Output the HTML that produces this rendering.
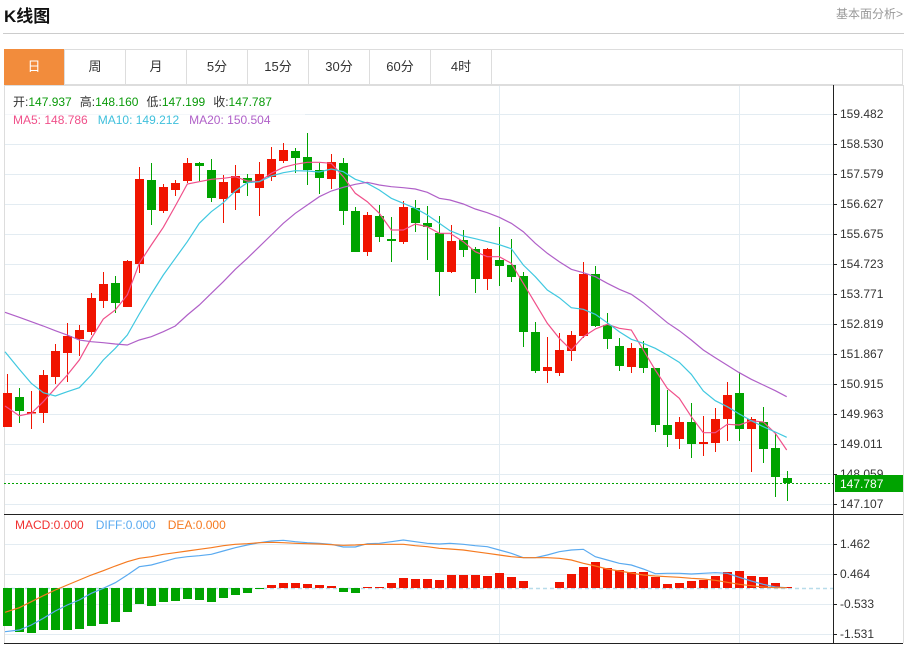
<!DOCTYPE html>
<html><head><meta charset="utf-8"><style>
body{margin:0;width:910px;height:646px;background:#fff;overflow:hidden;font-family:"Liberation Sans","Noto Sans CJK SC",sans-serif;}
#wrap{position:relative;width:910px;height:646px;}
.t{position:absolute;white-space:nowrap;}
</style></head><body><div id="wrap">
<div class="t" style="left:4px;top:2px;font-size:17px;font-weight:bold;color:#111;">K线图</div>
<div class="t" style="left:836px;top:5px;font-size:12px;color:#999;">基本面分析&gt;</div>
<div style="position:absolute;left:3px;top:33px;width:901px;height:1px;background:#ccc"></div>
<div style="position:absolute;left:4px;top:49px;width:899px;height:36px;border:1px solid #ddd;box-sizing:border-box"></div>
<div id="tabs"></div>
<svg id="s" width="910" height="646" style="position:absolute;left:0;top:0" xmlns="http://www.w3.org/2000/svg"></svg>
</div>
<script>
var tabs=["日","周","月","5分","15分","30分","60分","4时"];
var th="";
for(var i=0;i<8;i++){var x=4+i*61;
th+='<div class="t" style="left:'+x+'px;top:49px;width:61px;height:36px;line-height:36px;text-align:center;font-size:13px;'+(i==0?'background:#f28c3c;color:#fff;':'color:#333;')+'border-right:1px solid #ddd;box-sizing:border-box">'+tabs[i]+'</div>';}
document.getElementById('tabs').innerHTML=th;
var S='';
function L(x1,y1,x2,y2,c,w,d){S+='<line x1="'+x1+'" y1="'+y1+'" x2="'+x2+'" y2="'+y2+'" stroke="'+c+'" stroke-width="'+(w||1)+'"'+(d?' stroke-dasharray="'+d+'"':'')+'/>';}
function T(x,y,t,c,s){S+='<text x="'+x+'" y="'+y+'" fill="'+c+'" font-size="'+(s||12)+'" font-family="Liberation Sans,Noto Sans CJK SC,sans-serif">'+t+'</text>';}
// grids
for(var y=114;y<=504;y+=30)L(4,y+.5,833,y+.5,'#e3ecf2');
[544,574,604,634].forEach(function(y){L(4,y+.5,833,y+.5,'#e3ecf2');});
L(499.5,85,499.5,643,'#e3ecf2');L(739.5,85,739.5,643,'#e3ecf2');
L(4.5,85,4.5,643,'#ddd');L(903.5,85,903.5,643,'#ddd');
L(4,85.5,903,85.5,'#ddd');
L(833.5,85,833.5,643,'#222');
L(4,514.5,903,514.5,'#222');L(4,643.5,903,643.5,'#222');
var labs=["159.482","158.530","157.579","156.627","155.675","154.723","153.771","152.819","151.867","150.915","149.963","149.011","148.059","147.107"];
for(var i=0;i<labs.length;i++){var y=114+i*30;L(833,y+.5,837,y+.5,'#222');T(840,y+4,labs[i],'#333',12);}
[["1.462",544],["0.464",574],["-0.533",604],["-1.531",634]].forEach(function(a){L(833,a[1]+.5,837,a[1]+.5,'#222');T(840,a[1]+4,a[0],'#333',12);});
// candles [top,bottom,high,low,red?]
var C=[[393,427,374,427,1],[397,411,388,423,0],[412,413,391,429,1],[375,413,370,423,1],[351,377,344,384,1],[336,353,323,382,1],[330,339,325,356,1],[298,332,293,335,1],[284,301,272,308,1],[283,303,276,313,0],[261,307,260,307,1],[179,264,167,273,1],[180,210,163,225,0],[187,211,184,213,1],[183,190,180,196,1],[163,181,158,183,1],[163,166,162,181,0],[170,198,159,202,0],[182,199,175,223,1],[176,193,165,210,1],[178,183,174,196,0],[174,188,162,216,1],[159,177,147,181,1],[150,161,143,163,1],[151,158,148,173,0],[157,170,133,185,0],[170,178,163,194,0],[162,179,154,189,1],[163,211,158,225,0],[211,252,207,252,0],[215,252,212,256,1],[216,237,205,242,0],[239,241,217,262,0],[207,242,201,244,1],[208,223,200,232,0],[223,227,206,260,0],[233,272,216,296,0],[241,272,225,273,1],[240,250,230,257,0],[249,279,247,293,0],[249,279,248,290,1],[260,266,227,286,0],[265,277,239,282,0],[276,332,272,347,0],[332,371,322,373,0],[367,371,337,383,1],[350,373,333,376,1],[335,351,331,361,1],[274,336,262,338,1],[274,326,266,327,0],[325,339,313,349,0],[346,366,338,371,0],[348,367,343,373,1],[348,368,341,373,0],[368,425,368,432,0],[425,435,390,447,0],[422,439,417,449,1],[422,444,403,458,0],[442,444,416,456,1],[419,443,408,452,1],[395,419,382,441,1],[393,429,372,441,0],[419,429,417,472,1],[422,449,407,463,0],[448,477,433,497,0],[478,483,471,501,0]];
var RED='#f01400',GRN='#00a300';
C.forEach(function(c,i){var x=7.5+12*i;var col=c[4]?RED:GRN;L(x,c[2],x,c[3],col);S+='<rect x="'+(x-4.5)+'" y="'+c[0]+'" width="9" height="'+Math.max(1.5,c[1]-c[0])+'" fill="'+col+'"/>';});
function P(a,b,c){var p=[];a.forEach(function(q){p.push((q[0]/3).toFixed(1)+','+(130+q[1]/3).toFixed(1));});b.forEach(function(q){p.push((450+q[0]/3).toFixed(1)+','+(130+q[1]/3).toFixed(1));});S+='<polyline points="'+p.join(' ')+'" fill="none" stroke="'+c+'" stroke-width="1.2"/>';}
P([[15,828],[58,857],[94,850],[130,815],[166,775],[202,735],[238,690],[274,625],[310,567],[346,540],[382,495],[418,400],[454,345],[490,292],[526,228],[562,162],[598,155],[634,148],[670,145],[706,140],[742,153],[778,155],[814,130],[850,112],[886,103],[922,97],[958,97],[994,100],[1030,140],[1066,190],[1102,215],[1138,250],[1174,300],[1210,300],[1246,282],[1282,290],[1318,310],[1350,310]],
[[40,335],[76,365],[112,380],[148,380],[184,400],[220,460],[256,520],[292,580],[328,625],[364,660],[400,620],[436,597],[472,583],[508,595],[544,600],[580,660],[616,720],[652,775],[688,805],[724,860],[760,908],[796,908],[832,883],[868,885],[904,872],[940,876],[976,910],[1010,960]],'#f0508a');
P([[15,665],[58,718],[94,760],[130,788],[166,798],[202,785],[238,773],[274,735],[310,690],[346,655],[382,615],[418,552],[454,492],[490,435],[526,385],[562,335],[598,280],[634,245],[670,218],[706,183],[742,158],[778,155],[814,138],[850,128],[886,122],[922,123],[958,126],[994,117],[1030,125],[1066,148],[1102,160],[1138,180],[1174,205],[1210,220],[1246,235],[1282,255],[1318,280],[1350,302]],
[[40,318],[76,326],[112,335],[148,344],[184,356],[220,405],[256,440],[292,480],[328,503],[364,533],[400,538],[436,553],[472,578],[508,605],[544,628],[580,640],[616,655],[652,675],[688,697],[724,733],[760,783],[796,812],[832,830],[868,852],[904,872],[940,890],[976,906],[1010,922]],'#40c8e0');
P([[15,547],[58,562],[94,575],[130,588],[166,602],[202,615],[238,630],[274,635],[310,638],[346,642],[382,645],[418,630],[454,620],[490,605],[526,588],[562,555],[598,525],[634,490],[670,455],[706,418],[742,385],[778,350],[814,315],[850,280],[886,250],[922,225],[958,200],[994,183],[1030,172],[1066,163],[1102,157],[1138,165],[1174,170],[1210,173],[1246,177],[1282,187],[1318,205],[1350,210]],
[[40,222],[76,237],[112,248],[148,262],[184,280],[220,305],[256,340],[292,370],[328,395],[364,418],[400,428],[436,440],[472,460],[508,478],[544,493],[580,518],[616,548],[652,578],[688,602],[724,630],[760,660],[796,683],[832,706],[868,728],[904,748],[940,765],[976,782],[1010,800]],'#b060c8');
// current price
L(4,483.5,833,483.5,'#00a300',1,'2,2');
S+='<rect x="835" y="475" width="68" height="17" fill="#00a300"/>';T(840,488,'147.787','#fff',12);
// MACD
L(4,588.5,833,588.5,'#b8dcea',1.5,'4,3');
var H=[626,632,633,630,630,630,629,626,624,622,612,604,606,602,601,599,600,602,598,595,593,589,585,583,583,584,585,586,592,593,587,587,583,578,579,579,580,575,575,575,576,573,577,581,588,588,582,574,567,562,568,570,572,572,577,584,583,581,580,576,572,571,576,577,583,587];
H.forEach(function(v,i){var x=7.5+12*i;var col=v>588?GRN:RED;var y0=Math.min(v,588),h=Math.abs(v-588);if(h<1)return;S+='<rect x="'+(x-4.5)+'" y="'+y0+'" width="9" height="'+h+'" fill="'+col+'"/>';});
function M(a,b,c){var p=[];a.forEach(function(q){p.push((q[0]/3).toFixed(1)+','+(505+q[1]/3).toFixed(1));});b.forEach(function(q){p.push((450+q[0]/3).toFixed(1)+','+(505+q[1]/3).toFixed(1));});S+='<polyline points="'+p.join(' ')+'" fill="none" stroke="'+c+'" stroke-width="1.2"/>';}
M([[15,380],[58,375],[94,360],[130,340],[166,318],[202,300],[238,285],[274,265],[310,250],[346,233],[382,210],[418,185],[454,180],[490,170],[526,160],[562,155],[598,152],[634,148],[670,138],[706,128],[742,120],[778,113],[814,108],[850,106],[886,110],[922,113],[958,115],[994,118],[1030,126],[1066,126],[1102,116],[1138,115],[1174,110],[1210,105],[1246,110],[1282,115],[1318,117],[1350,115]],
[[40,118],[76,122],[112,125],[148,135],[184,145],[220,158],[256,158],[292,150],[328,140],[364,135],[400,133],[436,155],[472,165],[508,175],[544,180],[580,192],[616,206],[652,205],[688,205],[724,207],[760,205],[796,203],[832,205],[868,217],[904,228],[940,238],[976,246],[1010,248]],'#5aaaf0');
M([[15,322],[58,308],[94,290],[130,272],[166,255],[202,240],[238,225],[274,210],[310,197],[346,183],[382,170],[418,160],[454,155],[490,148],[526,143],[562,138],[598,133],[634,128],[670,122],[706,118],[742,116],[778,113],[814,112],[850,113],[886,115],[922,116],[958,117],[994,119],[1030,121],[1066,120],[1102,118],[1138,118],[1174,118],[1210,118],[1246,122],[1282,125],[1318,130],[1350,132]],
[[40,135],[76,140],[112,145],[148,150],[184,155],[220,158],[256,158],[292,158],[328,160],[364,165],[400,175],[436,183],[472,192],[508,198],[544,204],[580,210],[616,213],[652,215],[688,217],[724,220],[760,222],[796,226],[832,232],[868,238],[904,242],[940,246],[976,248],[1010,248]],'#f57a20');
// legends
S+='<rect x="5" y="90" width="300" height="40" fill="#fff" fill-opacity="0.6"/>';
S+='<text x="13" y="106" font-size="12" font-family="Liberation Sans,Noto Sans CJK SC,sans-serif"><tspan fill="#333">开:</tspan><tspan fill="#0a9a0a">147.937</tspan><tspan fill="#333" dx="8">高:</tspan><tspan fill="#0a9a0a">148.160</tspan><tspan fill="#333" dx="8">低:</tspan><tspan fill="#0a9a0a">147.199</tspan><tspan fill="#333" dx="8">收:</tspan><tspan fill="#0a9a0a">147.787</tspan></text>';
S+='<text x="13" y="124" font-size="12" font-family="Liberation Sans,sans-serif"><tspan fill="#f0508a">MA5: 148.786</tspan><tspan fill="#40c0dc" dx="10">MA10: 149.212</tspan><tspan fill="#b060c8" dx="10">MA20: 150.504</tspan></text>';
S+='<text x="15" y="529" font-size="12" font-family="Liberation Sans,sans-serif"><tspan fill="#f03030">MACD:0.000</tspan><tspan fill="#5aaaf0" dx="12">DIFF:0.000</tspan><tspan fill="#f57a20" dx="12">DEA:0.000</tspan></text>';
document.getElementById('s').innerHTML=S;
</script></body></html>
